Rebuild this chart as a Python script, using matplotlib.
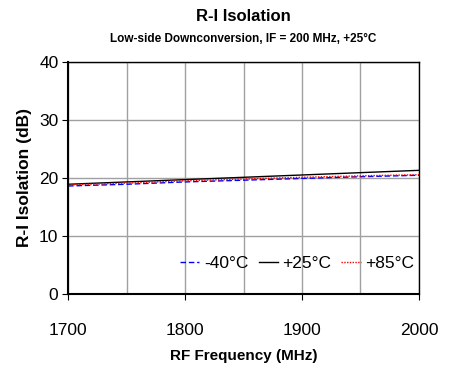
import matplotlib
matplotlib.use("Agg")
import matplotlib.pyplot as plt

# data
freq = [1700, 1750, 1800, 1850, 1900, 1950, 2000]
iso_m40 = [18.6, 18.9, 19.3, 19.6, 19.9, 20.2, 20.45]
iso_p25 = [18.9, 19.3, 19.7, 20.1, 20.5, 20.9, 21.3]
iso_p85 = [18.8, 19.1, 19.5, 19.8, 20.1, 20.35, 20.55]

xticks = [1700, 1800, 1900, 2000]
yticks = [0, 10, 20, 30, 40]

plt.rcParams['font.family'] = ['Liberation Sans', 'DejaVu Sans']

fig = plt.figure(figsize=(4.51, 3.66), dpi=100)
ax = fig.add_axes([0.151, 0.197, 0.778, 0.634])

ax.plot(freq, iso_m40, color='#0000FF', lw=1.0, ls=(0, (4, 2)), label='-40°C')
ax.plot(freq, iso_p25, color='black', lw=1.0, label='+25°C')
ax.plot(freq, iso_p85, color='#FF0000', lw=1.0, ls=(0, (1, 1)), label='+85°C')

ax.set_xlim(1700, 2000)
ax.set_ylim(0, 40)
ax.set_xticks(xticks)
ax.set_xticks([1750, 1850, 1950], minor=True)
ax.set_yticks(yticks)
ax.grid(True, which='both', axis='x', color='#A0A0A0', lw=1.0)
ax.grid(True, which='major', axis='y', color='#A0A0A0', lw=1.0)
ax.tick_params(axis='x', which='major', labelsize=12.5, pad=17, length=4, direction='out')
ax.tick_params(axis='x', which='minor', length=0)
ax.tick_params(axis='y', labelsize=12.5, pad=3, length=4, direction='out')
for s in ax.spines.values():
    s.set_color('black')
    s.set_linewidth(1.0)
ax.spines['left'].set_linewidth(1.5)
ax.spines['bottom'].set_linewidth(1.5)

ax.set_xlabel('RF Frequency (MHz)', fontsize=11, fontweight='bold', labelpad=8)
ax.set_ylabel('R-I Isolation (dB)', fontsize=12.5, fontweight='bold', labelpad=5)

leg = ax.legend(loc='center right', ncol=3, frameon=False, fontsize=12.5,
                handlelength=1.1, handletextpad=0.25, columnspacing=0.6,
                bbox_to_anchor=(1.03, 0.13))

fig.text(0.54, 0.955, 'R-I Isolation', ha='center', va='center',
         fontsize=12, fontweight='bold')
fig.text(0.54, 0.893, 'Low-side Downconversion, IF = 200 MHz, +25°C',
         ha='center', va='center', fontsize=8.5, fontweight='bold')

fig.savefig('out.png', dpi=100)
